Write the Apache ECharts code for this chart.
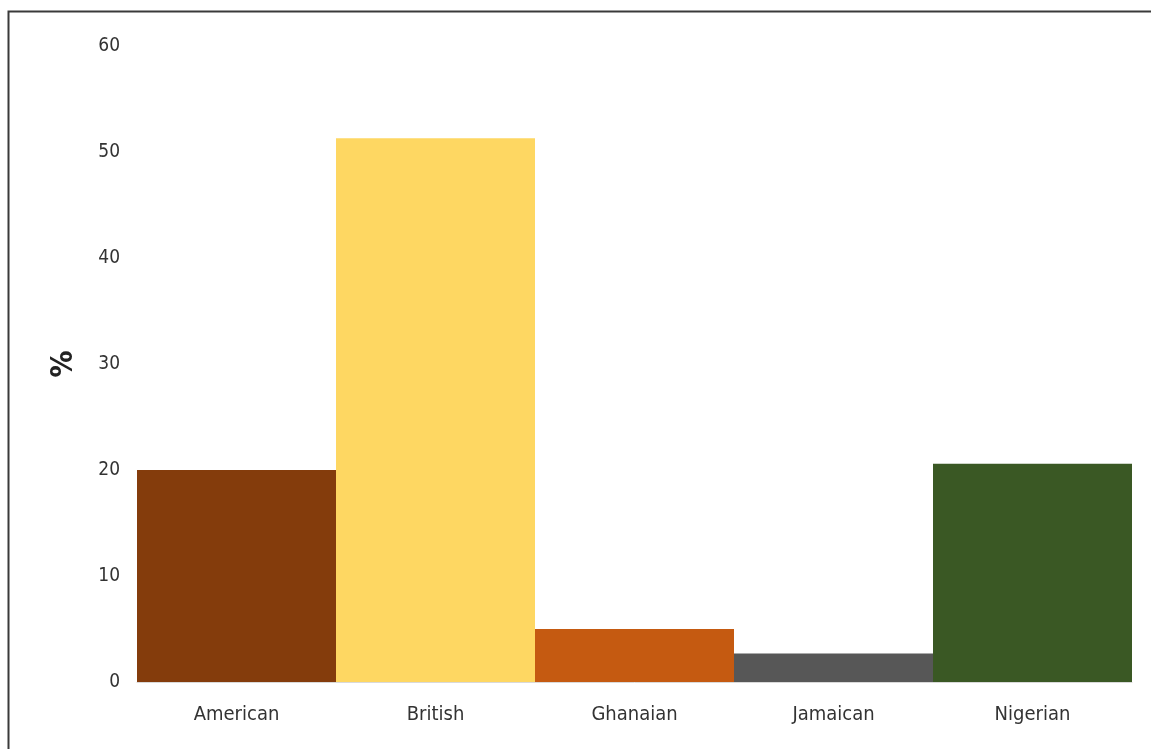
<!DOCTYPE html>
<html>
<head>
<meta charset="utf-8">
<script src="https://cdn.jsdelivr.net/npm/echarts@6/dist/echarts.min.js"></script>
<style>
  html, body { margin: 0; padding: 0; background: #fff; }
  #chart { width: 1151px; height: 749px; }
</style>
</head>
<body>
<div id="chart"></div>
<script>
// Share of respondents by nationality (%)
const categories = ['American', 'British', 'Ghanaian', 'Jamaican', 'Nigerian'];
const values = [20.0, 51.3, 5.0, 2.7, 20.6];
const barColors = ['#843C0C', '#FED762', '#C55A11', '#575757', '#3A5824'];

const chart = echarts.init(document.getElementById('chart'), null, { renderer: 'canvas' });

const fontFamily = '"DejaVu Sans Condensed", "Open Sans", sans-serif';

chart.setOption({
  backgroundColor: '#ffffff',
  animation: false,
  graphic: [{
    type: 'rect',
    shape: { x: 8.5, y: 11.5, width: 1200, height: 800 },
    style: { fill: 'none', stroke: '#3a3a3a', lineWidth: 2 },
    silent: true
  }],
  grid: { left: 137, right: 19, top: 46, bottom: 67 },
  xAxis: {
    type: 'category',
    data: categories,
    axisLine: { show: true, lineStyle: { color: '#d9d9d9', width: 1 } },
    axisTick: { show: false },
    axisLabel: { color: '#333', fontSize: 20, fontFamily: fontFamily, margin: 23 }
  },
  yAxis: {
    type: 'value',
    min: 0,
    max: 60,
    interval: 10,
    name: '%',
    nameLocation: 'middle',
    nameRotate: 90,
    nameGap: 58,
    nameTextStyle: { color: '#222', fontSize: 30, fontWeight: 'bold', fontFamily: fontFamily },
    axisLine: { show: false },
    axisTick: { show: false },
    splitLine: { show: false },
    axisLabel: { color: '#333', fontSize: 19, fontFamily: fontFamily, margin: 17 }
  },
  series: [{
    type: 'bar',
    data: values.map((v, i) => ({ value: v, itemStyle: { color: barColors[i] } })),
    barCategoryGap: '0%',
    barWidth: '100%'
  }]
});
</script>
</body>
</html>
